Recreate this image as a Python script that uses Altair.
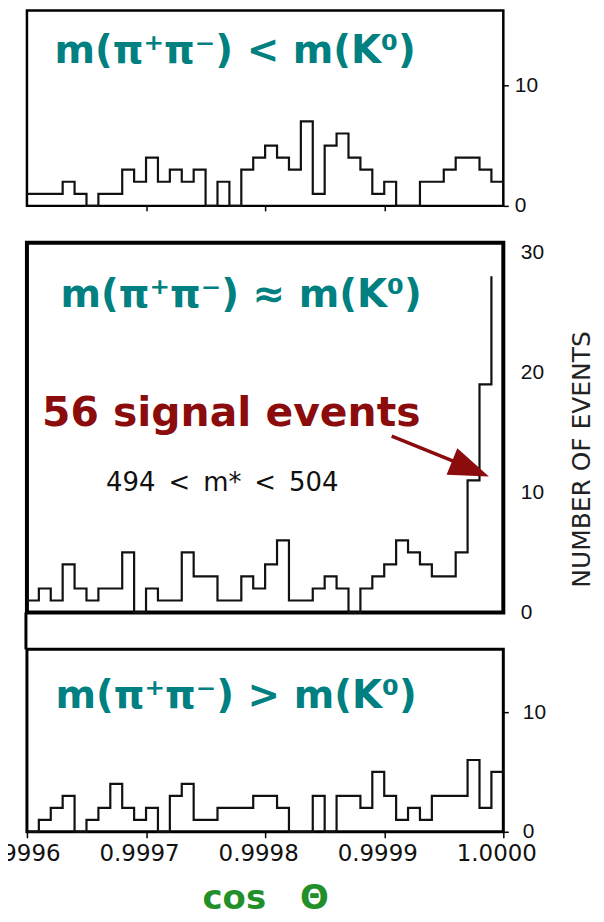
import altair as alt
import pandas as pd

# ---- data ----
bin_start = 0.9996
bin_width = 0.00001
top_counts = [1, 1, 1, 2, 1, 0, 1, 1, 3, 2, 4, 2, 3, 2, 3, 0, 2, 0, 3, 4,
              5, 4, 3, 7, 1, 5, 6, 4, 3, 1, 2, 0, 0, 2, 2, 3, 4, 4, 3, 2]
middle_counts = [1, 2, 1, 4, 2, 1, 2, 2, 5, 0, 2, 1, 1, 5, 3, 3, 1, 1, 3, 2,
                 4, 6, 1, 1, 2, 3, 2, 0, 2, 3, 4, 6, 5, 4, 3, 3, 5, 11, 19, 28]
bottom_counts = [0, 1, 2, 3, 0, 1, 2, 4, 2, 1, 2, 0, 3, 4, 1, 1, 2, 2, 2, 3,
                 3, 2, 0, 0, 3, 0, 3, 3, 2, 5, 3, 1, 2, 1, 3, 3, 3, 6, 2, 5]
x_ticks = [0.9996, 0.9997, 0.9998, 0.9999, 1.0000]
top_yticks = [0, 10]
middle_yticks = [0, 10, 20, 30]
bottom_yticks = [0, 10]
top_title = ["m(π⁺π⁻) < m(K⁰)"]
middle_title = ["m(π⁺π⁻) ≈ m(K⁰)"]
bottom_title = ["m(π⁺π⁻) > m(K⁰)"]
signal_label = ["56 signal events"]
mass_label = ["494\u2002<\u2002m*\u2002<\u2002504"]
y_title = "NUMBER OF EVENTS"
x_title = "cos\u2003Θ"

TEAL = "#008080"
DARKRED = "#8a0c0c"
GREEN = "#22902a"
W = 478


def step_frame(counts, close):
    xs = [round(bin_start + i * bin_width, 6) for i in range(len(counts))]
    ys = list(counts)
    if close:
        xs.append(round(bin_start + len(counts) * bin_width, 6))
        ys.append(counts[-1])
    return pd.DataFrame({"cos": xs, "n": ys})


def hist(counts, close, ymax, xaxis, yaxis):
    return alt.Chart(step_frame(counts, close)).mark_line(
        interpolate="step-after", color="#111111", strokeWidth=2.2
    ).encode(
        x=alt.X("cos:Q", scale=alt.Scale(domain=[0.9996, 1.0], nice=False, zero=False), axis=xaxis),
        y=alt.Y("n:Q", scale=alt.Scale(domain=[0, ymax], nice=False), axis=yaxis),
    )


def label(text, x, y, size, color, weight="bold", font="DejaVu Sans"):
    return alt.Chart(pd.DataFrame({"t": text})).mark_text(
        font=font, fontSize=size, fontWeight=weight, color=color,
        align="center", baseline="alphabetic"
    ).encode(text="t:N", x=alt.value(x), y=alt.value(y))


def yaxis(values, ticks, pad, **kw):
    return alt.Axis(orient="right", values=values, grid=False, domain=False,
                    ticks=ticks, tickSize=5, tickWidth=1.5, tickColor="black",
                    labelFont="Liberation Sans", labelFontSize=21, labelColor="#111111",
                    labelPadding=pad, labelBaseline="middle", **kw)


# ---- top panel ----
top_xaxis = alt.Axis(values=[0.9997, 0.9998, 0.9999], labels=False, ticks=True, tickSize=5,
                     tickWidth=1.5, tickColor="black", domain=False, grid=False, title=None)
top = alt.layer(
    hist(top_counts, True, 16.2, top_xaxis, yaxis(top_yticks, True, 6, title=None)),
    label(top_title, 209, 53, 39, TEAL),
).properties(width=W, height=196, view=alt.ViewBackground(stroke="black", strokeWidth=2.5))

# ---- middle panel ----
mid_xaxis = alt.Axis(values=x_ticks, labels=False, ticks=False, domain=False, grid=False, title=None)
mid_yaxis = yaxis(middle_yticks, False, 17, title=y_title, titleAngle=270, titleX=78, titleY=217,
                  titleAlign="center", titleBaseline="middle", titleFont="DejaVu Sans",
                  titleFontSize=25, titleFontWeight="normal", titleColor="#222222")
arrow_line = alt.Chart(pd.DataFrame({"a": [0]})).mark_rule(color=DARKRED, strokeWidth=3.5).encode(
    x=alt.value(366), y=alt.value(194), x2=alt.value(447), y2=alt.value(227))
arrow_head = alt.Chart(pd.DataFrame({"a": [0]})).mark_point(
    shape="M1,0L-1,-0.72L-1,0.72Z", filled=True, color=DARKRED, opacity=1,
    size=1600, angle=22, strokeWidth=0
).encode(x=alt.value(445), y=alt.value(227))
connector = alt.Chart(pd.DataFrame({"a": [0]})).mark_rule(color="black", strokeWidth=3, clip=False).encode(
    x=alt.value(-1), y=alt.value(371), y2=alt.value(408))
middle = alt.layer(
    hist(middle_counts, False, 30.79, mid_xaxis, mid_yaxis),
    label(middle_title, 215, 64, 39, TEAL),
    label(signal_label, 205, 184, 41, DARKRED),
    label(mass_label, 196, 249, 26, "#111111", weight="normal"),
    arrow_line, arrow_head, connector,
).properties(width=W, height=371, view=alt.ViewBackground(stroke="black", strokeWidth=4))

# ---- bottom panel ----
bot_xaxis = alt.Axis(values=x_ticks, format=".4f", labels=True, ticks=True, tickSize=6,
                     tickWidth=1.5, tickColor="black", domain=False, grid=False,
                     labelFont="DejaVu Sans", labelFontSize=23, labelColor="#111111",
                     labelPadding=5, labelOffset=-7, labelFlush=False, labelOverlap=False,
                     title=x_title, titleFont="DejaVu Sans", titleFontSize=34,
                     titleFontWeight="bold", titleColor=GREEN, titleY=77,
                     titleBaseline="alphabetic")
bottom = alt.layer(
    hist(bottom_counts, True, 15.25, bot_xaxis, yaxis(bottom_yticks, True, 14, title=None)),
    label(bottom_title, 210, 59, 39, TEAL),
).properties(width=W, height=183, view=alt.ViewBackground(stroke="black", strokeWidth=3))

chart = alt.vconcat(top, middle, bottom, spacing=37, bounds="flush").properties(
    padding={"left": -30, "top": -1, "right": 0, "bottom": -2},
    background="white",
)

chart.save("out.html", embed_options={"renderer": "svg", "actions": False})
